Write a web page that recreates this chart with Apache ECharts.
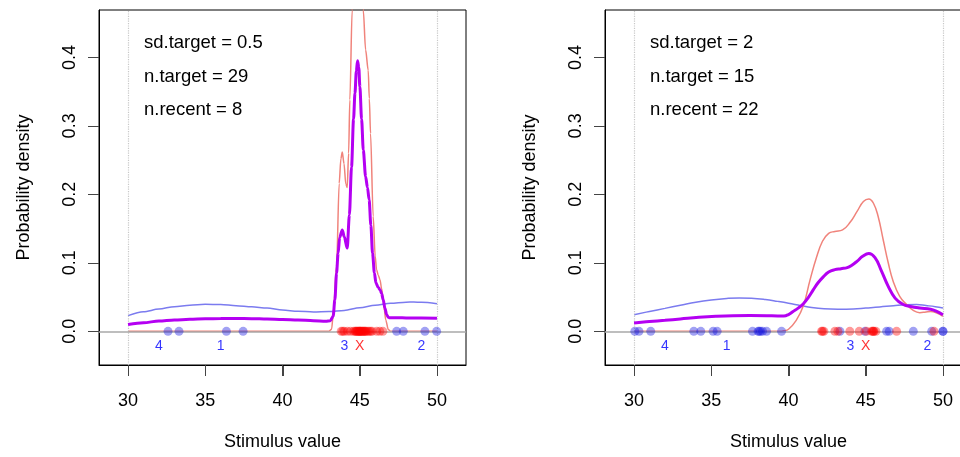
<!DOCTYPE html>
<html>
<head>
<meta charset="utf-8">
<script src="https://cdn.jsdelivr.net/npm/echarts@6/dist/echarts.min.js"></script>
<style>html,body{margin:0;padding:0;background:#fff;overflow:hidden}#c{width:985px;height:457px}</style>
</head>
<body>
<div id="c"></div>
<script>
// ---------- data ----------
const xTicks = [30, 35, 40, 45, 50];
const yTicks = [0, 0.1, 0.2, 0.3, 0.4];

const leftNotes = ['sd.target = 0.5', 'n.target = 29', 'n.recent = 8'];
const rightNotes = ['sd.target = 2', 'n.target = 15', 'n.recent = 22'];

const markerX = [32, 36, 44, 45, 49];
const markerText = ['4', '1', '3', 'X', '2'];
const markerY = -0.022;

const leftRecent = [[30,0.0229],[31,0.0285],[32,0.0325],[33,0.036],[34,0.0382],[35,0.0394],[36,0.039],[37,0.0375],[38,0.0357],[39,0.034],[40,0.031],[41,0.0293],[42,0.0283],[43,0.0288],[44,0.0305],[45,0.0345],[46,0.038],[47,0.0408],[48,0.0426],[48.5,0.0428],[49,0.0423],[50,0.0404]];
const leftMix = [[30,0.0098],[31,0.0125],[32,0.015],[33,0.0165],[34,0.0176],[35,0.0183],[36,0.0187],[37,0.0188],[38,0.0185],[39,0.018],[40,0.0172],[41,0.0164],[42,0.0156],[42.8,0.0148],[43.1,0.0155],[43.28,0.022],[43.39,0.046],[43.5,0.085],[43.6,0.114],[43.7,0.137],[43.87,0.148],[44.0,0.138],[44.19,0.1215],[44.33,0.17],[44.47,0.24],[44.6,0.31],[44.69,0.3475],[44.78,0.38],[44.86,0.395],[44.94,0.385],[45.01,0.357],[45.12,0.31],[45.23,0.265],[45.38,0.226],[45.5,0.21],[45.61,0.192],[45.72,0.155],[45.83,0.114],[45.95,0.085],[46.05,0.0706],[46.2,0.064],[46.31,0.0608],[46.42,0.055],[46.52,0.046],[46.63,0.034],[46.74,0.0243],[46.85,0.0205],[46.95,0.0198],[47.5,0.0197],[48,0.0196],[49,0.0193],[50,0.019]];
const leftTarget = [[30,0],[43.0,0],[43.18,0.003],[43.3,0.03],[43.5,0.095],[43.67,0.216],[43.78,0.252],[43.87,0.262],[43.98,0.245],[44.1,0.215],[44.19,0.21],[44.28,0.26],[44.36,0.338],[44.51,0.469],[44.65,0.6],[44.8,0.7],[44.86,0.715],[44.95,0.7],[45.1,0.6],[45.23,0.469],[45.38,0.411],[45.55,0.381],[45.62,0.34],[45.7,0.289],[45.87,0.168],[46.0,0.11],[46.09,0.09],[46.2,0.082],[46.31,0.0754],[46.42,0.062],[46.52,0.046],[46.6,0.03],[46.68,0.017],[46.85,0.0025],[47.0,0],[50,0]];
const leftRecentPts = [32.59, 33.30, 36.37, 37.45, 47.39, 47.82, 49.22, 49.98];
const leftTargetPts = [43.8, 43.9, 44.0, 44.2, 44.4, 44.6, 44.7, 44.75, 44.8, 44.85, 44.9, 44.95, 45.0, 45.0, 45.05, 45.1, 45.15, 45.2, 45.25, 45.3, 45.35, 45.4, 45.5, 45.6, 45.7, 45.8, 46.1, 46.3, 46.5];

const rightRecent = [[30,0.0243],[31,0.029],[32,0.0335],[33,0.038],[34,0.0425],[35,0.0458],[36,0.048],[36.8,0.0488],[37.6,0.0484],[38.5,0.0465],[39.3,0.0437],[40,0.041],[40.8,0.0375],[41.5,0.0347],[42.3,0.0328],[43.2,0.0322],[44.2,0.0326],[45,0.034],[45.9,0.0356],[46.8,0.0375],[47.6,0.0389],[48.3,0.039],[48.9,0.0376],[49.5,0.036],[50,0.034]];
const rightMix = [[30,0.0122],[31,0.0142],[32,0.016],[33,0.018],[34.2,0.0204],[35.3,0.022],[36.4,0.0229],[37.5,0.0231],[38.6,0.0229],[39.3,0.0224],[39.7,0.0224],[40.0,0.0245],[40.3,0.029],[40.6,0.0335],[40.95,0.040],[41.3,0.05],[41.6,0.0605],[41.9,0.0705],[42.25,0.0795],[42.6,0.0865],[43.0,0.0900],[43.4,0.0915],[43.8,0.0930],[44.1,0.0965],[44.45,0.1025],[44.8,0.1095],[45.2,0.1135],[45.6,0.1075],[46.0,0.089],[46.45,0.066],[46.9,0.0485],[47.4,0.0395],[47.9,0.0363],[48.5,0.034],[49.2,0.0322],[49.6,0.029],[50,0.0243]];
const rightTarget = [[30,0],[39.4,0],[39.7,0.0008],[40.0,0.003],[40.5,0.016],[40.95,0.0365],[41.4,0.0755],[41.8,0.107],[42.2,0.1315],[42.6,0.143],[43.0,0.1458],[43.5,0.148],[44.0,0.1595],[44.45,0.1755],[44.85,0.1895],[45.2,0.1932],[45.5,0.187],[45.8,0.168],[46.13,0.1337],[46.46,0.0997],[46.78,0.0729],[47.2,0.051],[47.65,0.039],[48.1,0.0302],[48.5,0.0272],[48.9,0.0282],[49.2,0.0288],[49.6,0.0268],[50,0.0219]];
const rightRecentPts = [30.05, 30.32, 31.08, 33.87, 34.32, 35.12, 35.38, 37.67, 38.03, 38.1, 38.19, 38.32, 38.58, 39.55, 43.33, 44.95, 46.35, 46.52, 48.08, 49.27, 50.0, 50.0];
const rightTargetPts = [42.14, 42.2, 42.29, 43.0, 43.2, 43.97, 44.58, 45.05, 45.38, 45.45, 45.5, 45.53, 45.66, 47.0, 49.42];

// ---------- chart ----------
const FONT = '"Liberation Sans", Arial, Helvetica, sans-serif';
const X_MIN = 28.12, X_MAX = 51.88, Y_MIN = -0.0492, Y_MAX = 0.4692;
const GRID_TOP = 10, GRID_W = 367, GRID_H = 355, TICK_LEN = 11;
const chart = echarts.init(document.getElementById('c'), null, {renderer: 'canvas'});

const panels = [
  {recent: leftRecent, mix: leftMix, target: leftTarget, rPts: leftRecentPts, tPts: leftTargetPts, notes: leftNotes, left: 99, smooth: 0.3, mono: 'x'},
  {recent: rightRecent, mix: rightMix, target: rightTarget, rPts: rightRecentPts, tPts: rightTargetPts, notes: rightNotes, left: 605, smooth: 0.45, mono: null}
];

const grids = [], xAxes = [], yAxes = [], series = [], graphics = [];
panels.forEach((p, i) => {
  grids.push({left: p.left, top: GRID_TOP, width: GRID_W, height: GRID_H, show: true, borderColor: '#000', borderWidth: 1});
  xAxes.push({
    type: 'value', gridIndex: i, min: X_MIN, max: X_MAX,
    splitLine: {show: false}, axisLine: {show: true, onZero: false, lineStyle: {color: '#000', width: 1}},
    axisTick: {show: true, length: TICK_LEN, customValues: xTicks, lineStyle: {color: '#444', width: 1}},
    axisLabel: {customValues: xTicks, fontSize: 18, color: '#000', margin: 27, fontFamily: FONT},
    name: 'Stimulus value', nameLocation: 'middle', nameGap: 68,
    nameTextStyle: {fontSize: 18, color: '#000', fontFamily: FONT}
  });
  yAxes.push({
    type: 'value', gridIndex: i, min: Y_MIN, max: Y_MAX,
    splitLine: {show: false}, axisLine: {show: true, onZero: false, lineStyle: {color: '#000', width: 1}},
    axisTick: {show: true, length: TICK_LEN, customValues: yTicks, lineStyle: {color: '#444', width: 1}},
    axisLabel: {customValues: yTicks, fontSize: 18, color: '#000', margin: 20, rotate: 90, fontFamily: FONT,
      formatter: v => Number(v).toFixed(1)},
    name: 'Probability density', nameLocation: 'middle', nameGap: 66,
    nameTextStyle: {fontSize: 18, color: '#000', fontFamily: FONT}
  });
  const base = {xAxisIndex: i, yAxisIndex: i, silent: true, animation: false};
  const sm = p.mono ? {smooth: p.smooth, smoothMonotone: p.mono} : {smooth: p.smooth};
  series.push(Object.assign({}, base, sm, {
    type: 'line', data: p.recent, showSymbol: false,
    lineStyle: {color: '#7b7bef', width: 1.5}, z: 3,
    markLine: {silent: true, symbol: 'none', label: {show: false}, animation: false,
      data: [
        {xAxis: 30, lineStyle: {color: '#c8c8c8', type: 'dotted', width: 1.2}},
        {xAxis: 50, lineStyle: {color: '#c8c8c8', type: 'dotted', width: 1.2}},
        {yAxis: 0, lineStyle: {color: '#a8a8a8', type: 'solid', width: 1.5}}
      ]}
  }));
  series.push(Object.assign({}, base, sm, {
    type: 'line', data: p.target, showSymbol: false,
    lineStyle: {color: '#f0837b', width: 1.5}, z: 4
  }));
  series.push(Object.assign({}, base, {
    type: 'scatter', data: p.rPts.map(x => [x, 0]), symbolSize: 9,
    itemStyle: {color: 'rgba(20,20,225,0.5)'}, z: 5
  }));
  series.push(Object.assign({}, base, {
    type: 'scatter', data: p.tPts.map(x => [x, 0]), symbolSize: 9,
    itemStyle: {color: 'rgba(255,0,0,0.5)'}, z: 5
  }));
  series.push(Object.assign({}, base, sm, {
    type: 'line', data: p.mix, showSymbol: false,
    lineStyle: {color: '#b400f2', width: 3}, z: 6
  }));
  series.push(Object.assign({}, base, {
    type: 'scatter', symbolSize: 0, z: 7,
    data: markerX.map((x, k) => ({
      value: [x, markerY], name: markerText[k],
      label: {color: markerText[k] === 'X' ? '#ff0000' : '#0000ff'}
    })),
    label: {show: true, position: 'inside', formatter: d => d.name, fontSize: 14, fontFamily: FONT}
  }));
  p.notes.forEach((t, k) => {
    graphics.push({type: 'text', x: p.left + 45, y: 43 + k * 33.5,
      style: {text: t, fontSize: 18.5, fontFamily: FONT, fill: '#000', verticalAlign: 'middle', align: 'left'}});
  });
  // tick marks (fallback), placed from the axis ranges
  const yBottom = GRID_TOP + GRID_H;
  xTicks.forEach(v => {
    const px = Math.round(p.left + (v - X_MIN) / (X_MAX - X_MIN) * GRID_W) + 0.5;
    graphics.push({type: 'line', shape: {x1: px, y1: yBottom, x2: px, y2: yBottom + TICK_LEN},
      style: {stroke: '#444', lineWidth: 1}});
  });
  yTicks.forEach(v => {
    const py = Math.round(yBottom - (v - Y_MIN) / (Y_MAX - Y_MIN) * GRID_H) + 0.5;
    graphics.push({type: 'line', shape: {x1: p.left, y1: py, x2: p.left - TICK_LEN, y2: py},
      style: {stroke: '#444', lineWidth: 1}});
  });
});

chart.setOption({
  animation: false,
  grid: grids, xAxis: xAxes, yAxis: yAxes, series: series, graphic: graphics
});
</script>
</body>
</html>
